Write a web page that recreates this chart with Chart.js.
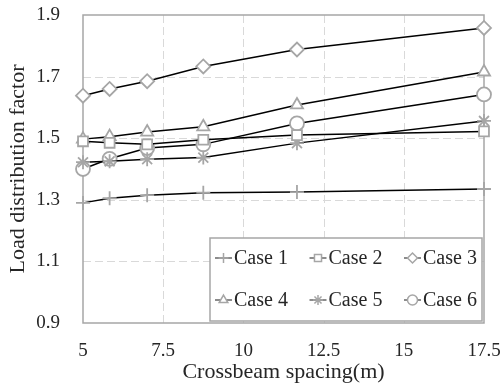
<!DOCTYPE html>
<html>
<head>
<meta charset="utf-8">
<script src="https://cdn.jsdelivr.net/npm/chart.js@4.4.1/dist/chart.umd.min.js"></script>
<style>
  html, body { margin: 0; padding: 0; background: #fff; }
</style>
</head>
<body>
<canvas id="myChart" width="503" height="391"></canvas>
<script>
// crossbeam spacing (m) and load distribution factor per case
const spacing = [5, 5.83, 7, 8.75, 11.67, 17.5];
const case1 = [1.29, 1.305, 1.315, 1.323, 1.325, 1.335];
const case2 = [1.49, 1.485, 1.48, 1.495, 1.51, 1.522];
const case3 = [1.638, 1.66, 1.685, 1.733, 1.788, 1.858];
const case4 = [1.497, 1.505, 1.52, 1.537, 1.608, 1.715];
const case5 = [1.422, 1.425, 1.432, 1.437, 1.484, 1.556];
const case6 = [1.40, 1.433, 1.468, 1.48, 1.548, 1.642];
const xTicks = [5, 7.5, 10, 12.5, 15, 17.5];
const yTicks = [0.9, 1.1, 1.3, 1.5, 1.7, 1.9];

const FONT = '"Liberation Serif", "Times New Roman", serif';
const TEXT = '#262626';
const MARK = '#a6a6a6';
const CLEAR = 'rgba(0,0,0,0)';

function series(label, values, style) {
  return {
    label: label,
    data: spacing.map((x, i) => ({ x: x, y: values[i] })),
    borderColor: '#000',
    borderWidth: 1.5,
    pointStyle: style,
    pointRadius: 7,
    pointHoverRadius: 7,
    pointBorderColor: MARK,
    pointBackgroundColor: '#fff',
    pointBorderWidth: 1.8,
    tension: 0,
    clip: false
  };
}

// dashed grid + grey frame round the plot area
const frame = {
  id: 'frame',
  beforeDatasetsDraw(chart) {
    const a = chart.chartArea, ctx = chart.ctx;
    const xs = chart.scales.x, ys = chart.scales.y;
    ctx.save();
    ctx.strokeStyle = '#d9d9d9';
    ctx.lineWidth = 1;
    ctx.setLineDash([8, 4]);
    xTicks.slice(1, -1).forEach(v => {
      const px = Math.round(xs.getPixelForValue(v)) + 0.5;
      ctx.beginPath(); ctx.moveTo(px, a.top); ctx.lineTo(px, a.bottom); ctx.stroke();
    });
    yTicks.slice(1, -1).forEach(v => {
      const py = Math.round(ys.getPixelForValue(v)) + 0.5;
      ctx.beginPath(); ctx.moveTo(a.left, py); ctx.lineTo(a.right, py); ctx.stroke();
    });
    ctx.setLineDash([]);
    ctx.strokeStyle = MARK;
    ctx.lineWidth = 1.5;
    ctx.strokeRect(a.left, a.top, a.right - a.left, a.bottom - a.top);
    ctx.restore();
  }
};

// boxed legend inside the bottom right corner
const boxLegend = {
  id: 'boxLegend',
  afterDraw(chart) {
    const ctx = chart.ctx, a = chart.chartArea;
    const w = 272, h = 83;
    const x0 = a.right - w - 2, y0 = a.bottom - h - 2;
    ctx.save();
    ctx.fillStyle = '#fff';
    ctx.fillRect(x0, y0, w, h);
    ctx.strokeStyle = MARK;
    ctx.lineWidth = 1.5;
    ctx.strokeRect(x0, y0, w, h);
    ctx.font = '20px ' + FONT;
    ctx.textBaseline = 'middle';
    chart.data.datasets.forEach((ds, i) => {
      const x = x0 + 5 + (i % 3) * 94.5;
      const y = y0 + 20 + Math.floor(i / 3) * 42;
      ctx.strokeStyle = '#404040';
      ctx.lineWidth = 1.2;
      ctx.beginPath();
      ctx.moveTo(x, y);
      ctx.lineTo(x + 17, y);
      ctx.stroke();
      ctx.fillStyle = '#fff';
      ctx.strokeStyle = MARK;
      ctx.lineWidth = 1.5;
      Chart.helpers.drawPoint(ctx, { pointStyle: ds.pointStyle, radius: 5, borderWidth: 1.5, rotation: 0 }, x + 8.5, y);
      ctx.fillStyle = TEXT;
      ctx.fillText(ds.label, x + 19, y + 1);
    });
    ctx.restore();
  }
};

const ctx = document.getElementById('myChart').getContext('2d');
const myChart = new Chart(ctx, {
  type: 'line',
  data: {
    datasets: [
      series('Case 1', case1, 'cross'),
      series('Case 2', case2, 'rect'),
      series('Case 3', case3, 'rectRot'),
      series('Case 4', case4, 'triangle'),
      series('Case 5', case5, 'star'),
      series('Case 6', case6, 'circle')
    ]
  },
  options: {
    responsive: false,
    animation: false,
    layout: { padding: { top: 15, right: 19, left: 0, bottom: 0 } },
    plugins: {
      legend: { display: false },
      tooltip: { enabled: false }
    },
    scales: {
      x: {
        type: 'linear',
        min: 5,
        max: 17.5,
        afterFit: (s) => { s.height = 68; },
        afterBuildTicks: (s) => { s.ticks = xTicks.map(v => ({ value: v })); },
        grid: { color: CLEAR, tickColor: CLEAR, drawTicks: true, tickLength: 17 },
        border: { display: false },
        ticks: {
          padding: 0,
          color: TEXT,
          font: { family: FONT, size: 19 },
          maxRotation: 0,
          callback: (v) => String(v)
        },
        title: {
          display: true,
          text: 'Crossbeam spacing(m)',
          color: TEXT,
          font: { family: FONT, size: 22 },
          padding: 6
        }
      },
      y: {
        min: 0.9,
        max: 1.9,
        afterFit: (s) => { s.width = 83; },
        afterBuildTicks: (s) => { s.ticks = yTicks.map(v => ({ value: v })); },
        grid: { color: CLEAR, tickColor: CLEAR, drawTicks: true, tickLength: 23 },
        border: { display: false },
        ticks: {
          padding: 0,
          color: TEXT,
          font: { family: FONT, size: 19 },
          callback: (v) => v.toFixed(1)
        },
        title: {
          display: true,
          text: 'Load distribution factor',
          color: TEXT,
          font: { family: FONT, size: 22 },
          padding: 5
        }
      }
    }
  },
  plugins: [frame, boxLegend]
});
</script>
</body>
</html>
